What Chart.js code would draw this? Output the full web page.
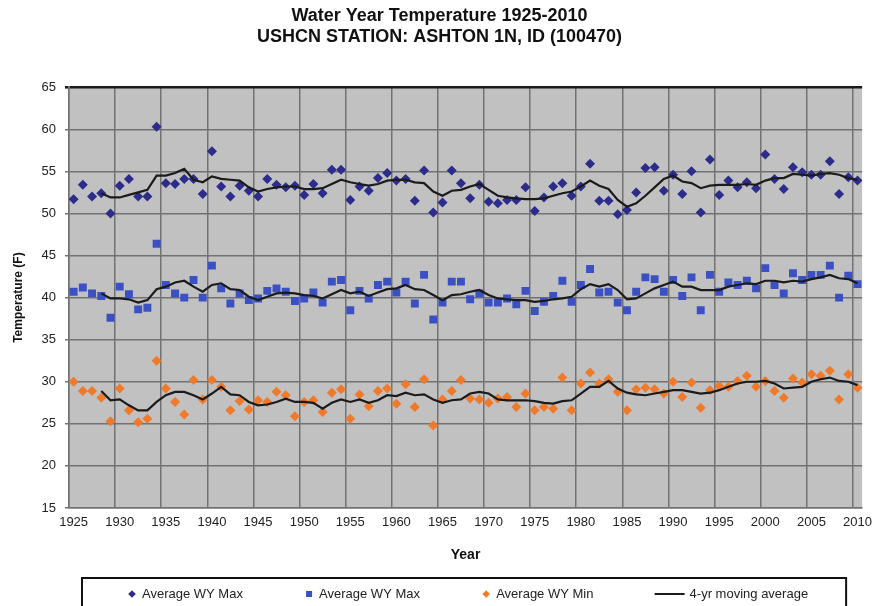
<!DOCTYPE html>
<html>
<head>
<meta charset="utf-8">
<title>Water Year Temperature 1925-2010</title>
<script src="https://cdn.jsdelivr.net/npm/chart.js@4.4.1/dist/chart.umd.min.js"></script>
<style>
  html, body { margin: 0; padding: 0; background: #ffffff; }
  #wrap { width: 879px; height: 606px; }
</style>
</head>
<body>
<div id="wrap"><canvas id="chart" width="879" height="606"></canvas></div>
<script>
const FONT = "'Liberation Sans', Arial, Helvetica, sans-serif";

// Water years 1925-2010
const years = Array.from({ length: 86 }, (_, i) => 1925 + i);

// Labelled years on the x axis; grid lines fall half a year before each one
const labelYears = [1925, 1930, 1935, 1940, 1945, 1950, 1955, 1960, 1965, 1970, 1975, 1980, 1985, 1990, 1995, 2000, 2005, 2010];

// Average water-year maximum (°F), 1925-2010
const wyMaxHigh = [
  51.7, 53.4, 52.0, 52.4, 50.0, 53.3, 54.1, 52.0, 52.0, 60.3,
  53.6, 53.5, 54.1, 54.1, 52.3, 57.4, 53.2, 52.0, 53.3, 52.7,
  52.0, 54.1, 53.4, 53.1, 53.3, 52.2, 53.5, 52.4, 55.2, 55.2,
  51.6, 53.2, 52.7, 54.2, 54.8, 53.9, 54.1, 51.5, 55.1, 50.1,
  51.3, 55.1, 53.6, 51.8, 53.4, 51.4, 51.2, 51.6, 51.6, 53.1,
  50.3, 51.9, 53.2, 53.6, 52.1, 53.2, 55.9, 51.5, 51.5, 49.9,
  50.4, 52.5, 55.4, 55.5, 52.7, 54.6, 52.3, 55.0, 50.1, 56.4,
  52.2, 53.9, 53.1, 53.7, 53.0, 57.0, 54.1, 52.9, 55.5, 54.9,
  54.6, 54.6, 56.2, 52.3, 54.3, 53.9
];

// Second "Average WY Max" series (°F), 1925-2010
const wyMaxMid = [
  40.7, 41.2, 40.5, 40.2, 37.6, 41.3, 40.4, 38.6, 38.8, 46.4,
  41.5, 40.5, 40.0, 42.1, 40.0, 43.8, 41.1, 39.3, 40.5, 39.7,
  39.9, 40.8, 41.1, 40.7, 39.6, 39.9, 40.6, 39.4, 41.9, 42.1,
  38.5, 40.8, 39.9, 41.5, 41.9, 40.6, 41.9, 39.3, 42.7, 37.4,
  39.4, 41.9, 41.9, 39.8, 40.5, 39.4, 39.4, 39.9, 39.2, 40.8,
  38.4, 39.5, 40.2, 42.0, 39.5, 41.5, 43.4, 40.6, 40.7, 39.4,
  38.5, 40.7, 42.4, 42.2, 40.7, 42.1, 40.2, 42.4, 38.5, 42.7,
  40.7, 41.8, 41.5, 42.0, 41.1, 43.5, 41.5, 40.5, 42.9, 42.1,
  42.7, 42.7, 43.8, 40.0, 42.6, 41.6
];

// Average water-year minimum (°F), 1925-2010
const wyMin = [
  30.0, 28.9, 28.9, 28.1, 25.3, 29.2, 26.6, 25.2, 25.6, 32.5,
  29.2, 27.6, 26.1, 30.2, 27.9, 30.2, 29.4, 26.6, 27.7, 26.7,
  27.8, 27.6, 28.8, 28.4, 25.9, 27.6, 27.8, 26.4, 28.7, 29.1,
  25.6, 28.5, 27.1, 28.9, 29.2, 27.4, 29.7, 27.0, 30.3, 24.8,
  27.9, 28.9, 30.2, 28.0, 27.9, 27.5, 28.0, 28.2, 27.0, 28.6,
  26.6, 27.0, 26.8, 30.5, 26.6, 29.8, 31.1, 29.8, 30.3, 28.8,
  26.6, 29.1, 29.3, 29.1, 28.6, 30.0, 28.2, 29.9, 26.9, 29.0,
  29.5, 29.4, 30.1, 30.7, 29.4, 30.1, 28.9, 28.1, 30.4, 29.9,
  30.9, 30.7, 31.3, 27.9, 30.9, 29.3
];

// 4-yr moving averages, first value in 1928 (no value for 1925-1927)
const avgMaxHigh = [
  null, null, null,
  52.4, 51.9, 51.9, 52.2, 52.5, 52.8, 54.5, 54.5, 54.8, 55.3,
  54.0, 53.7, 54.4, 54.1, 54.0, 53.9, 53.1, 52.6, 52.9, 53.1,
  53.2, 53.2, 52.9, 52.9, 53.0, 53.5, 54.0, 53.7, 53.5, 53.3,
  53.5, 53.9, 54.0, 54.0, 53.7, 53.6, 52.6, 52.1, 52.7, 52.8,
  53.2, 53.5, 52.8, 52.1, 51.9, 51.8, 51.7, 51.7, 51.8, 52.1,
  52.4, 52.6, 53.2, 53.9, 53.3, 52.9, 51.6, 50.8, 51.2, 52.1,
  53.1, 54.1, 54.5, 53.8, 53.6, 53.0, 53.3, 53.4, 53.4, 53.4,
  53.5, 53.4, 53.9, 54.2, 54.2, 54.7, 54.6, 54.5, 54.7, 54.8,
  54.6, 54.2, 54.0
];

const avgMaxMid = [
  null, null, null,
  40.5, 39.9, 39.9, 39.8, 39.4, 39.7, 41.0, 41.3, 41.8, 42.0,
  41.3, 40.7, 41.5, 41.7, 41.0, 40.9, 40.1, 39.7, 40.1, 40.5,
  40.6, 40.5, 40.3, 40.2, 39.9, 40.4, 40.9, 40.5, 40.7, 40.2,
  40.6, 41.0, 41.1, 41.5, 41.0, 40.9, 40.3, 39.7, 40.3, 40.4,
  40.7, 40.9, 40.3, 39.9, 39.8, 39.7, 39.7, 39.5, 39.6, 39.8,
  39.9, 40.1, 41.0, 41.6, 41.3, 41.6, 40.9, 39.8, 39.9, 40.5,
  41.1, 41.5, 41.9, 41.3, 41.3, 40.9, 40.9, 40.9, 41.3, 41.5,
  41.7, 41.6, 42.0, 42.0, 41.8, 42.0, 41.9, 42.2, 42.4, 42.7,
  42.3, 42.2, 41.7
];

const avgMin = [
  null, null, null,
  28.9, 27.8, 27.9, 27.2, 26.6, 26.6, 27.6, 28.4, 28.8, 28.8,
  28.4, 27.9, 28.6, 29.4, 28.5, 28.4, 27.6, 27.2, 27.3, 27.6,
  28.0, 27.6, 27.6, 27.5, 26.8, 27.5, 27.9, 27.6, 27.9, 27.5,
  27.8, 28.4, 28.3, 28.7, 28.4, 28.5, 27.9, 27.5, 27.8, 27.9,
  28.6, 28.8, 28.6, 27.9, 27.8, 27.8, 27.8, 27.7, 27.5, 27.4,
  27.7, 27.8, 28.6, 29.4, 29.4, 30.1, 29.2, 28.7, 28.5, 28.4,
  28.6, 28.8, 29.0, 29.0, 28.8, 28.6, 28.7, 29.0, 29.4, 29.8,
  30.0, 30.0, 30.1, 29.8, 29.2, 29.3, 29.4, 30.0, 30.3, 30.5,
  30.1, 30.0, 29.6
];

const toPoints = values => years.map((yr, i) => ({ x: yr, y: values[i] }));

const NAVY = '#2c2c8c';
const BLUE = '#3c50c6';
const ORANGE = '#f07a2a';
const LINE = '#1b1b1b';
const GRID = '#727272';

function markerSet(label, values, style, color, radius) {
  return {
    label, data: toPoints(values), showLine: false, order: 1, inLegend: true,
    pointStyle: style, pointRadius: radius, pointHoverRadius: radius,
    backgroundColor: color, borderColor: color, pointBorderWidth: 0
  };
}

function averageSet(label, values, inLegend) {
  return {
    label, data: toPoints(values), showLine: true, order: 0, inLegend,
    borderColor: LINE, backgroundColor: LINE, borderWidth: 2.2,
    pointRadius: 0, pointHoverRadius: 0, tension: 0, spanGaps: false
  };
}

// Grey plotting surface behind the grid
const plotBackground = {
  id: 'plotBackground',
  beforeDraw(chart) {
    const { ctx, chartArea: a } = chart;
    ctx.save();
    ctx.fillStyle = '#c1c1c1';
    ctx.fillRect(a.left, a.top, a.right - a.left, a.bottom - a.top);
    ctx.restore();
  }
};

// Framed legend row under the axis title
const framedLegend = {
  id: 'framedLegend',
  afterDraw(chart) {
    const { ctx, chartArea: a } = chart;
    const entries = chart.data.datasets.filter(d => d.inLegend);
    const left = a.left + 13, right = a.right - 16;
    const top = chart.height - 28;
    ctx.save();
    ctx.strokeStyle = '#111';
    ctx.lineWidth = 2;
    ctx.strokeRect(left, top, right - left, 60);
    ctx.font = '13px ' + FONT;
    ctx.textBaseline = 'middle';
    const gap = 5;
    const markW = e => (e.showLine ? 30 : 10);
    const widths = entries.map(e => markW(e) + gap + ctx.measureText(e.label).width);
    const innerL = left + 45, innerR = right - 38;
    const total = widths.reduce((s, w) => s + w, 0);
    const spacing = (innerR - innerL - total) / (entries.length - 1);
    const y = top + 16;
    let x = innerL;
    entries.forEach((e, i) => {
      const mw = markW(e);
      const cx = x + mw / 2;
      ctx.fillStyle = e.borderColor;
      ctx.strokeStyle = e.borderColor;
      if (e.showLine) {
        ctx.lineWidth = 2;
        ctx.beginPath();
        ctx.moveTo(x, y);
        ctx.lineTo(x + mw, y);
        ctx.stroke();
      } else if (e.pointStyle === 'rect') {
        ctx.fillRect(cx - 3, y - 3, 6, 6);
      } else {
        ctx.beginPath();
        ctx.moveTo(cx, y - 3.8);
        ctx.lineTo(cx + 3.8, y);
        ctx.lineTo(cx, y + 3.8);
        ctx.lineTo(cx - 3.8, y);
        ctx.closePath();
        ctx.fill();
      }
      ctx.fillStyle = '#222';
      ctx.fillText(e.label, x + mw + gap, y);
      x += widths[i] + spacing;
    });
    ctx.restore();
  }
};

// x ticks: half-year positions carry the grid lines, whole years carry the labels
const xTicks = [];
labelYears.forEach(yr => { xTicks.push({ value: yr - 0.5 }); xTicks.push({ value: yr }); });

new Chart(document.getElementById('chart'), {
  type: 'scatter',
  data: {
    datasets: [
      markerSet('Average WY Max', wyMaxHigh, 'rectRot', NAVY, 5),
      markerSet('Average WY Max', wyMaxMid, 'rect', BLUE, 5.6),
      markerSet('Average WY Min', wyMin, 'rectRot', ORANGE, 5),
      averageSet('4-yr moving average', avgMaxHigh, true),
      averageSet('4-yr moving average', avgMaxMid, false),
      averageSet('4-yr moving average', avgMin, false)
    ]
  },
  options: {
    responsive: false,
    animation: false,
    devicePixelRatio: 1,
    layout: { padding: { left: 0, right: 0, top: 0, bottom: 36 } },
    plugins: {
      legend: { display: false },
      tooltip: { enabled: false },
      title: {
        display: true,
        text: ['Water Year Temperature 1925-2010', 'USHCN STATION: ASHTON 1N, ID (100470)'],
        color: '#111',
        font: { family: FONT, size: 18, weight: 'bold', lineHeight: 1.2 },
        padding: { top: 5, bottom: 39 }
      }
    },
    scales: {
      x: {
        type: 'linear',
        min: labelYears[0] - 0.5,
        max: labelYears[labelYears.length - 1] + 0.5,
        afterBuildTicks: scale => { scale.ticks = xTicks.map(t => ({ value: t.value })); },
        afterFit: scale => { scale.height = 62; },
        ticks: {
          autoSkip: false, maxRotation: 0, minRotation: 0,
          callback: v => (Number.isInteger(v) ? String(v) : ''),
          color: '#222', font: { family: FONT, size: 13 }, padding: 7
        },
        grid: {
          color: c => (c.tick && Number.isInteger(c.tick.value) ? 'rgba(0,0,0,0)' : GRID),
          lineWidth: 1.5, drawTicks: false
        },
        border: { display: true, color: GRID, width: 1.5 },
        title: {
          display: true, text: 'Year', color: '#111',
          font: { family: FONT, size: 14, weight: 'bold', lineHeight: 1.2 },
          padding: { top: 0, bottom: 6 }
        }
      },
      y: {
        min: 15, max: 65,
        afterFit: scale => { scale.width = 69; },
        ticks: { stepSize: 5, color: '#222', font: { family: FONT, size: 13 }, padding: 9 },
        grid: {
          color: c => (c.tick && c.tick.value === 65 ? '#1a1a1a' : GRID),
          lineWidth: c => (c.tick && c.tick.value === 65 ? 2.6 : 1.5),
          tickLength: 4
        },
        border: { display: true, color: GRID, width: 1.5 },
        title: {
          display: true, text: 'Temperature (F)', color: '#111',
          font: { family: FONT, size: 12, weight: 'bold', lineHeight: 1.2 },
          padding: { top: 11, bottom: 0 }
        }
      }
    }
  },
  plugins: [plotBackground, framedLegend]
});
</script>
</body>
</html>
